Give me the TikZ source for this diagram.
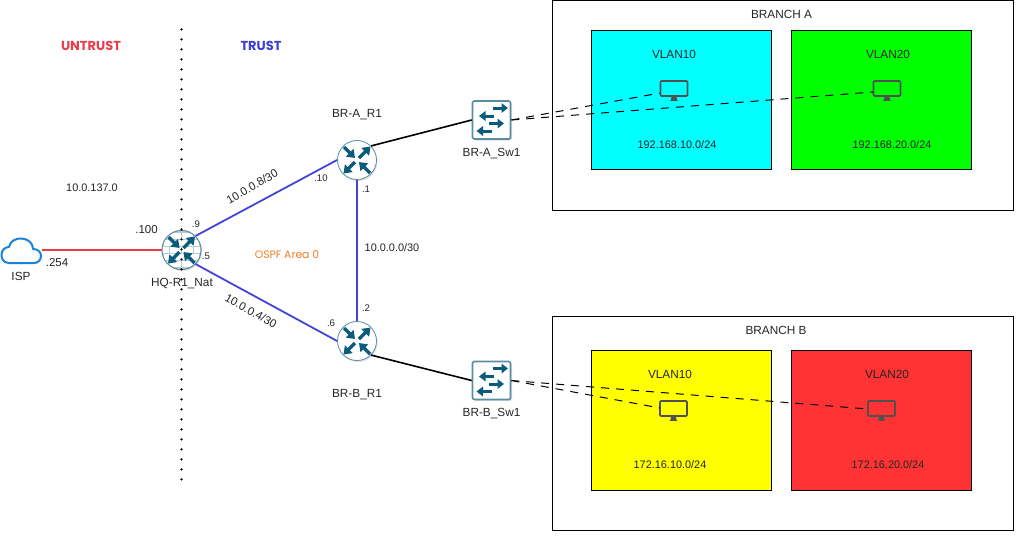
\documentclass[tikz,border=0pt]{standalone}
\usepackage{fontspec}
\setmainfont{Liberation Sans}
\newfontfamily\handfont{Poppins}
\usetikzlibrary{arrows.meta,shadows}
\definecolor{icon}{HTML}{0B5B7C}
\definecolor{iconline}{HTML}{5C8CA0}
\definecolor{linkblue}{HTML}{4444D8}
\definecolor{monitorgray}{HTML}{505050}
\definecolor{cyanfill}{RGB}{0,255,255}
\definecolor{greenfill}{RGB}{0,255,0}
\definecolor{yellowfill}{RGB}{255,255,0}
\definecolor{redfill}{RGB}{255,51,51}
\definecolor{cloudblue}{RGB}{25,130,225}
\definecolor{wanred}{RGB}{240,60,70}
\definecolor{untrustred}{RGB}{235,60,75}
\definecolor{trustblue}{RGB}{60,60,215}
\definecolor{ospforange}{RGB}{245,125,40}
\tikzset{
  every node/.style={font=\fontsize{11.8}{13}\selectfont,inner sep=0pt,text=black!85},
  small/.style={font=\fontsize{9.6}{11}\selectfont},
  mid/.style={font=\fontsize{10.9}{12}\selectfont},
  routernode/.style={circle,draw=iconline,line width=.8pt,fill=white,minimum size=39pt,
    drop shadow={shadow xshift=1pt,shadow yshift=-1.5pt,opacity=.25}},
  switchnode/.style={rectangle,rounded corners=2pt,draw=iconline,line width=1.6pt,fill=white,minimum size=38pt,
    drop shadow={shadow xshift=1.5pt,shadow yshift=-1.5pt,opacity=.25}},
  monitornode/.style={rectangle,rounded corners=1pt,draw=monitorgray,line width=1.6pt,minimum width=27pt,minimum height=15pt},
  branchbox/.style={rectangle,draw=black,line width=1pt,fill=white},
  vlanbox/.style={rectangle,draw=black,line width=1pt},
  ospflink/.style={draw=linkblue,line width=1.8pt},
  lanlink/.style={draw=black,line width=1.6pt},
  wanlink/.style={draw=wanred,line width=1.5pt},
  vlanlink/.style={draw=black,line width=1pt,dash pattern=on 8pt off 7pt},
  iconarrow/.style={draw=icon,line width=3.4pt,-{Triangle[length=7.5pt,width=10.5pt]}},
  swarrow/.style={draw=icon,line width=3pt,-{Triangle[length=6.5pt,width=9.5pt]}},
  zone/.style={font=\handfont\fontsize{13}{14}\selectfont\bfseries},
}
\newcommand\routerarrows[1]{%
  \begin{scope}[shift={(#1)}]
    \draw[iconarrow] (-13,-13) -- (-2,-2);
    \draw[iconarrow] (2,-2) -- (13.5,-13.5);
    \draw[iconarrow] (-2,2) -- (-13.5,13.5);
    \draw[iconarrow] (13,13) -- (2,2);
  \end{scope}}
\newcommand\switcharrows[1]{%
  \begin{scope}[shift={(#1)}]
    \draw[swarrow] (1.5,-12) -- (16.5,-12);
    \draw[swarrow] (2.5,-4) -- (-12.5,-4);
    \draw[swarrow] (-2.5,3.5) -- (12.5,3.5);
    \draw[swarrow] (0,11) -- (-15,11);
  \end{scope}}
\newcommand\monitorstand[1]{%
  \fill[monitorgray] ([xshift=-2.5pt]#1.south) -- ([xshift=2.5pt]#1.south) -- ([xshift=3pt,yshift=-3pt]#1.south) -- ([xshift=4pt,yshift=-4pt]#1.south) -- ([xshift=-4pt,yshift=-4pt]#1.south) -- ([xshift=-3pt,yshift=-3pt]#1.south) -- cycle;}
\begin{document}
\begin{tikzpicture}[x=1pt,y=-1pt]
\useasboundingbox (0,0) rectangle (1023,542);
\fill[white] (0,0) rectangle (1023,542);
% branch boxes
\node[branchbox,minimum width=461pt,minimum height=210pt] (brancha) at (782.5,105) {};
\node[branchbox,minimum width=461pt,minimum height=214pt] (branchb) at (782.5,423) {};
\node[vlanbox,fill=cyanfill,minimum width=180pt,minimum height=139pt] (a10) at (681,99.5) {};
\node[vlanbox,fill=greenfill,minimum width=180pt,minimum height=139pt] (a20) at (881,99.5) {};
\node[vlanbox,fill=yellowfill,minimum width=180pt,minimum height=140pt] (b10) at (681,420) {};
\node[vlanbox,fill=redfill,minimum width=180pt,minimum height=140pt] (b20) at (881,420) {};
% devices
\node[routernode] (hq) at (181.5,250) {};
\node[routernode] (bra) at (357,160) {};
\node[routernode] (brb) at (357,341) {};
\node[switchnode] (swa) at (491.5,120) {};
\node[switchnode] (swb) at (491.5,380.5) {};
\node[monitornode] (m1) at (674,88.5) {};
\node[monitornode] (m2) at (887,88.5) {};
\node[monitornode] (m3) at (673.5,408.5) {};
\node[monitornode] (m4) at (881.5,408.5) {};
\monitorstand{m1}\monitorstand{m2}\monitorstand{m3}\monitorstand{m4}
% firewall bricks
\begin{scope}
  \clip (hq) circle (19pt);
  \fill[iconline!45] (hq) circle (19pt);
  \foreach \yy in {-17,-10,-3,4,11}{
    \fill[white] (150,250+\yy) rectangle (210,250+\yy+5.5);
  }
  \foreach \yy/\xx in {-17/0,-10/6,-3/0,4/6,11/0}{
    \foreach \k in {-24,-12,0,12,24}{
      \fill[iconline!45] (181.5+\k+\xx-.6,250+\yy) rectangle (181.5+\k+\xx+.6,250+\yy+5.5);
    }
  }
\end{scope}
\draw[iconline,line width=.8pt] (hq) circle (19.5pt);
\routerarrows{hq}\routerarrows{bra}\routerarrows{brb}
\switcharrows{swa}\switcharrows{swb}
% cloud
\node[minimum width=41pt,minimum height=26pt] (isp) at (21,250) {};
\draw[draw=cloudblue,fill=white,line width=2pt,line join=round]
  (9,263) .. controls (3,263) and (1.5,258) .. (1.5,255)
  .. controls (1.5,250) and (5,247) .. (9,247)
  .. controls (10,241) and (16,238) .. (22,238.5)
  .. controls (29,239) and (33,244) .. (33,249)
  .. controls (38,249) and (41,252) .. (41,256)
  .. controls (41,260) and (38,263) .. (34,263) -- cycle;
% links
\draw[wanlink] (isp.east) -- (hq.west);
\draw[ospflink] (hq.north east) -- (bra.west);
\draw[ospflink] (hq.south east) -- (brb.west);
\draw[ospflink] (bra.south) -- (brb.north);
\draw[lanlink] (bra.north east) -- (swa.west);
\draw[lanlink] (brb.south east) -- (swb.west);
\coordinate (m1in) at (660,93);
\coordinate (m2in) at (873,92);
\coordinate (m3in) at (660,408);
\coordinate (m4in) at (868,409);
\draw[vlanlink] (swa.east) -- (m1in);
\draw[vlanlink] (swa.east) -- (m2in);
\draw[vlanlink] (swb.east) -- (m3in);
\draw[vlanlink] (swb.east) -- (m4in);
% zone divider
\coordinate (divtop) at (181.5,29.3);
\coordinate (divbot) at (181.5,482);
\draw[black,line width=2.6pt,line cap=round,dash pattern=on 0pt off 10pt] (divtop) -- (divbot);
% labels
\node[zone,text=untrustred] (untrust) at (91,46) {UNTRUST};
\node[zone,text=trustblue] (trust) at (261,46) {TRUST};
\node[mid] (lnet) at (92,188) {10.0.137.0};
\node[font=\fontsize{11.5}{13}\selectfont] (l100) at (146.5,230) {.100};
\node[font=\fontsize{11.5}{13}\selectfont] (l254) at (57,263) {.254};
\node (lisp) at (21,276) {ISP};
\node (lhq) at (182,284) {HQ-R1\_Nat};
\node[small] (l9) at (196,224) {.9};
\node[small] (l5) at (206,256) {.5};
\node[rotate=30,font=\fontsize{11.4}{13}\selectfont] (lnet8) at (252,186.5) {10.0.0.8/30};
\node[small] (l10) at (321,178.5) {.10};
\node[small] (l1) at (366,189) {.1};
\node[mid] (lnet0) at (392,248) {10.0.0.0/30};
\node[font=\handfont\fontsize{10.8}{12}\selectfont,text=ospforange] (lospf) at (287,255) {OSPF Area 0};
\node[rotate=-29,font=\fontsize{11.4}{13}\selectfont] (lnet4) at (251,311) {10.0.0.4/30};
\node[small] (l6) at (331,323) {.6};
\node[small] (l2) at (366,308) {.2};
\node (lbra) at (357,115) {BR-A\_R1};
\node (lswa) at (491.5,154) {BR-A\_Sw1};
\node (lbrb) at (357,395) {BR-B\_R1};
\node (lswb) at (491.5,413.5) {BR-B\_Sw1};
\node (tba) at (781.5,14.5) {BRANCH A};
\node (tbb) at (776,330) {BRANCH B};
\node (v1) at (674,54) {VLAN10};
\node (v2) at (888,54) {VLAN20};
\node (v3) at (670,374) {VLAN10};
\node (v4) at (887,374) {VLAN20};
\node[mid] (n1) at (677,145) {192.168.10.0/24};
\node[mid] (n2) at (892,145) {192.168.20.0/24};
\node[mid] (n3) at (670,465) {172.16.10.0/24};
\node[mid] (n4) at (888,465) {172.16.20.0/24};
\end{tikzpicture}
\end{document}
